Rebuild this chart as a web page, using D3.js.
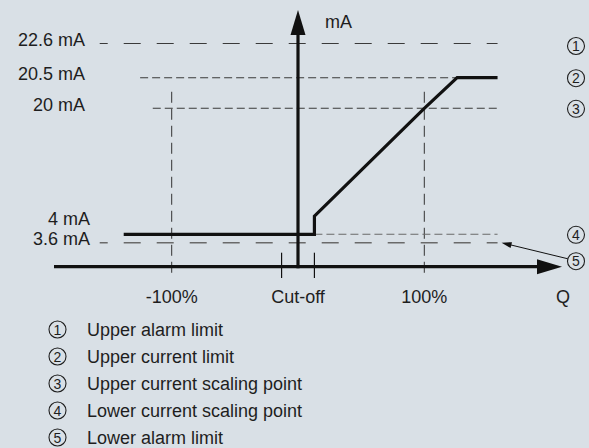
<!DOCTYPE html>
<html>
<head>
<meta charset="utf-8">
<script src="https://cdn.jsdelivr.net/npm/d3@7"></script>
<style>
  html, body { margin: 0; padding: 0; background: #d9e0e6; }
  svg { display: block; font-family: "Liberation Sans", Arial, sans-serif; }
</style>
</head>
<body>
<div id="chart"></div>
<script>
// output characteristic (Q in %, current in mA)
const curveQ = [-138, 13, 13, 100, 126, 158];
const curveMA = [4, 4, 6.3, 20, 20.5, 20.5];

// horizontal guide levels
const levelMA = [22.6, 20.5, 20, 4, 3.6];
const levelLabels = ['22.6 mA', '20.5 mA', '20 mA', '4 mA', '3.6 mA'];
const levelFromQ = [-157, -125, -115, 13, -157];
const levelToQ = [158, 158, 158, 158, 158];
const levelMarker = [1, 2, 3, 4, 5];

// x ticks
const xTickQ = [-100, 0, 100];
const xTickLabels = ['-100%', 'Cut-off', '100%'];
const cutoffQ = [-13, 13];

// legend
const legendNums = ['1', '2', '3', '4', '5'];
const legendLabels = [
  'Upper alarm limit',
  'Upper current limit',
  'Upper current scaling point',
  'Lower current scaling point',
  'Lower alarm limit'
];

const width = 589;
const height = 448;

const svg = d3.select('#chart')
  .append('svg')
  .attr('width', width)
  .attr('height', height);

// schematic, not to scale: piecewise linear mA axis
const x = d3.scaleLinear().domain([-100, 100]).range([171.7, 424.3]);
const y = d3.scaleLinear()
  .domain([-1.7, 0, 3.6, 4, 20, 20.5, 22.6])
  .range([278, 266.7, 242.7, 234.3, 108.3, 77.7, 43.5]);

const ink = '#111';
const txt = '#1e1e1e';

// vertical dashed guides at +/-100 %
svg.selectAll('.vguide')
  .data([-100, 100])
  .enter()
  .append('line')
  .attr('x1', d => x(d)).attr('x2', d => x(d))
  .attr('y1', y(20.27)).attr('y2', y(-1.7))
  .attr('stroke', '#333')
  .attr('stroke-width', 1)
  .attr('stroke-dasharray', '11,6');

// horizontal dashed guides
const styles = [
  { c: '#3a3a3a', dash: '17,16', off: 9 },
  { c: '#3a3a3a', dash: '8,4', off: 0 },
  { c: '#3a3a3a', dash: '8,4', off: 0 },
  { c: '#6a6a6a', dash: '8,4', off: 0 },
  { c: '#6a6a6a', dash: '17,16', off: 9 }
];
svg.selectAll('.hguide')
  .data(levelMA)
  .enter()
  .append('line')
  .attr('x1', (d, i) => x(levelFromQ[i]))
  .attr('x2', (d, i) => x(levelToQ[i]))
  .attr('y1', d => y(d)).attr('y2', d => y(d))
  .attr('stroke', (d, i) => styles[i].c)
  .attr('stroke-width', (d, i) => i === 4 ? 1.5 : 1.1)
  .attr('stroke-dasharray', (d, i) => styles[i].dash)
  .attr('stroke-dashoffset', (d, i) => styles[i].off);

// level labels
svg.selectAll('.ylab')
  .data(levelMA)
  .enter()
  .append('text')
  .attr('x', d => d < 10 ? 90 : 85)
  .attr('y', d => d === 4 ? y(d) - 9 : y(d) + 2.5)
  .attr('text-anchor', 'end')
  .attr('font-size', 18)
  .attr('fill', txt)
  .text((d, i) => levelLabels[i]);

// cut-off ticks
svg.selectAll('.cut')
  .data(cutoffQ)
  .enter()
  .append('line')
  .attr('x1', d => x(d)).attr('x2', d => x(d))
  .attr('y1', y(0) - 14).attr('y2', y(-1.7))
  .attr('stroke', ink)
  .attr('stroke-width', 1.2);

// axes
const x0 = x(0), y0 = y(0);
const xLeft = 54, xTip = 562, yTop = 10;
svg.append('line')
  .attr('x1', xLeft).attr('x2', xTip - 20)
  .attr('y1', y0).attr('y2', y0)
  .attr('stroke', ink).attr('stroke-width', 3.2);
svg.append('path')
  .attr('d', `M${xTip},${y0} L${xTip - 25},${y0 - 7.5} L${xTip - 25},${y0 + 7.5} Z`)
  .attr('fill', ink);
svg.append('line')
  .attr('x1', x0).attr('x2', x0)
  .attr('y1', y0 + 1.6).attr('y2', yTop + 20)
  .attr('stroke', ink).attr('stroke-width', 3.2);
svg.append('path')
  .attr('d', `M${x0},${yTop} L${x0 - 7.5},${yTop + 25} L${x0 + 7.5},${yTop + 25} Z`)
  .attr('fill', ink);

// characteristic curve
const pts = curveQ.map((q, i) => [x(q), y(curveMA[i])]);
svg.append('path')
  .attr('d', d3.line()(pts))
  .attr('fill', 'none')
  .attr('stroke', ink)
  .attr('stroke-width', 3.2)
  .attr('stroke-linejoin', 'miter');

// axis titles
svg.append('text')
  .attr('x', 325).attr('y', 28)
  .attr('font-size', 18).attr('fill', txt)
  .text('mA');
svg.append('text')
  .attr('x', 563).attr('y', 303)
  .attr('text-anchor', 'middle')
  .attr('font-size', 18).attr('fill', txt)
  .text('Q');

// x tick labels
svg.selectAll('.xlab')
  .data(xTickQ)
  .enter()
  .append('text')
  .attr('x', d => x(d))
  .attr('y', 303)
  .attr('text-anchor', 'middle')
  .attr('font-size', 18)
  .attr('fill', txt)
  .text((d, i) => xTickLabels[i]);

// circled numbers
function circled(g, cx, cy, label) {
  g.append('circle')
    .attr('cx', cx).attr('cy', cy).attr('r', 8.5)
    .attr('fill', 'none')
    .attr('stroke', txt)
    .attr('stroke-width', 1.1);
  g.append('text')
    .attr('x', cx).attr('y', cy + 5)
    .attr('text-anchor', 'middle')
    .attr('font-size', 14)
    .attr('fill', txt)
    .text(label);
}

const markerX = 576;
levelMA.forEach((d, i) => {
  const cy = i === 4 ? y(d) + 18.5 : y(d) + (i === 0 ? 2.5 : 0.5);
  circled(svg, markerX, cy, levelMarker[i]);
});

// pointer from marker 5 to the 3.6 mA line
const tipX = x(levelToQ[4]) + 4, tipY = y(3.6);
const fromX = markerX - 8.5, fromY = y(3.6) + 16;
const ang = Math.atan2(fromY - tipY, fromX - tipX);
svg.append('line')
  .attr('x1', fromX).attr('y1', fromY)
  .attr('x2', tipX + 8 * Math.cos(ang)).attr('y2', tipY + 8 * Math.sin(ang))
  .attr('stroke', ink).attr('stroke-width', 1);
const hx = tipX + 10 * Math.cos(ang), hy = tipY + 10 * Math.sin(ang);
svg.append('path')
  .attr('d', `M${tipX},${tipY} L${hx - 3 * Math.sin(ang)},${hy + 3 * Math.cos(ang)} L${hx + 3 * Math.sin(ang)},${hy - 3 * Math.cos(ang)} Z`)
  .attr('fill', ink);

// legend
const legend = svg.append('g');
legendLabels.forEach((t, i) => {
  const cy = 329.5 + i * 27;
  circled(legend, 57.5, cy, legendNums[i]);
  legend.append('text')
    .attr('x', 87).attr('y', cy + 6.5)
    .attr('font-size', 18)
    .attr('fill', txt)
    .text(t);
});
</script>
</body>
</html>
